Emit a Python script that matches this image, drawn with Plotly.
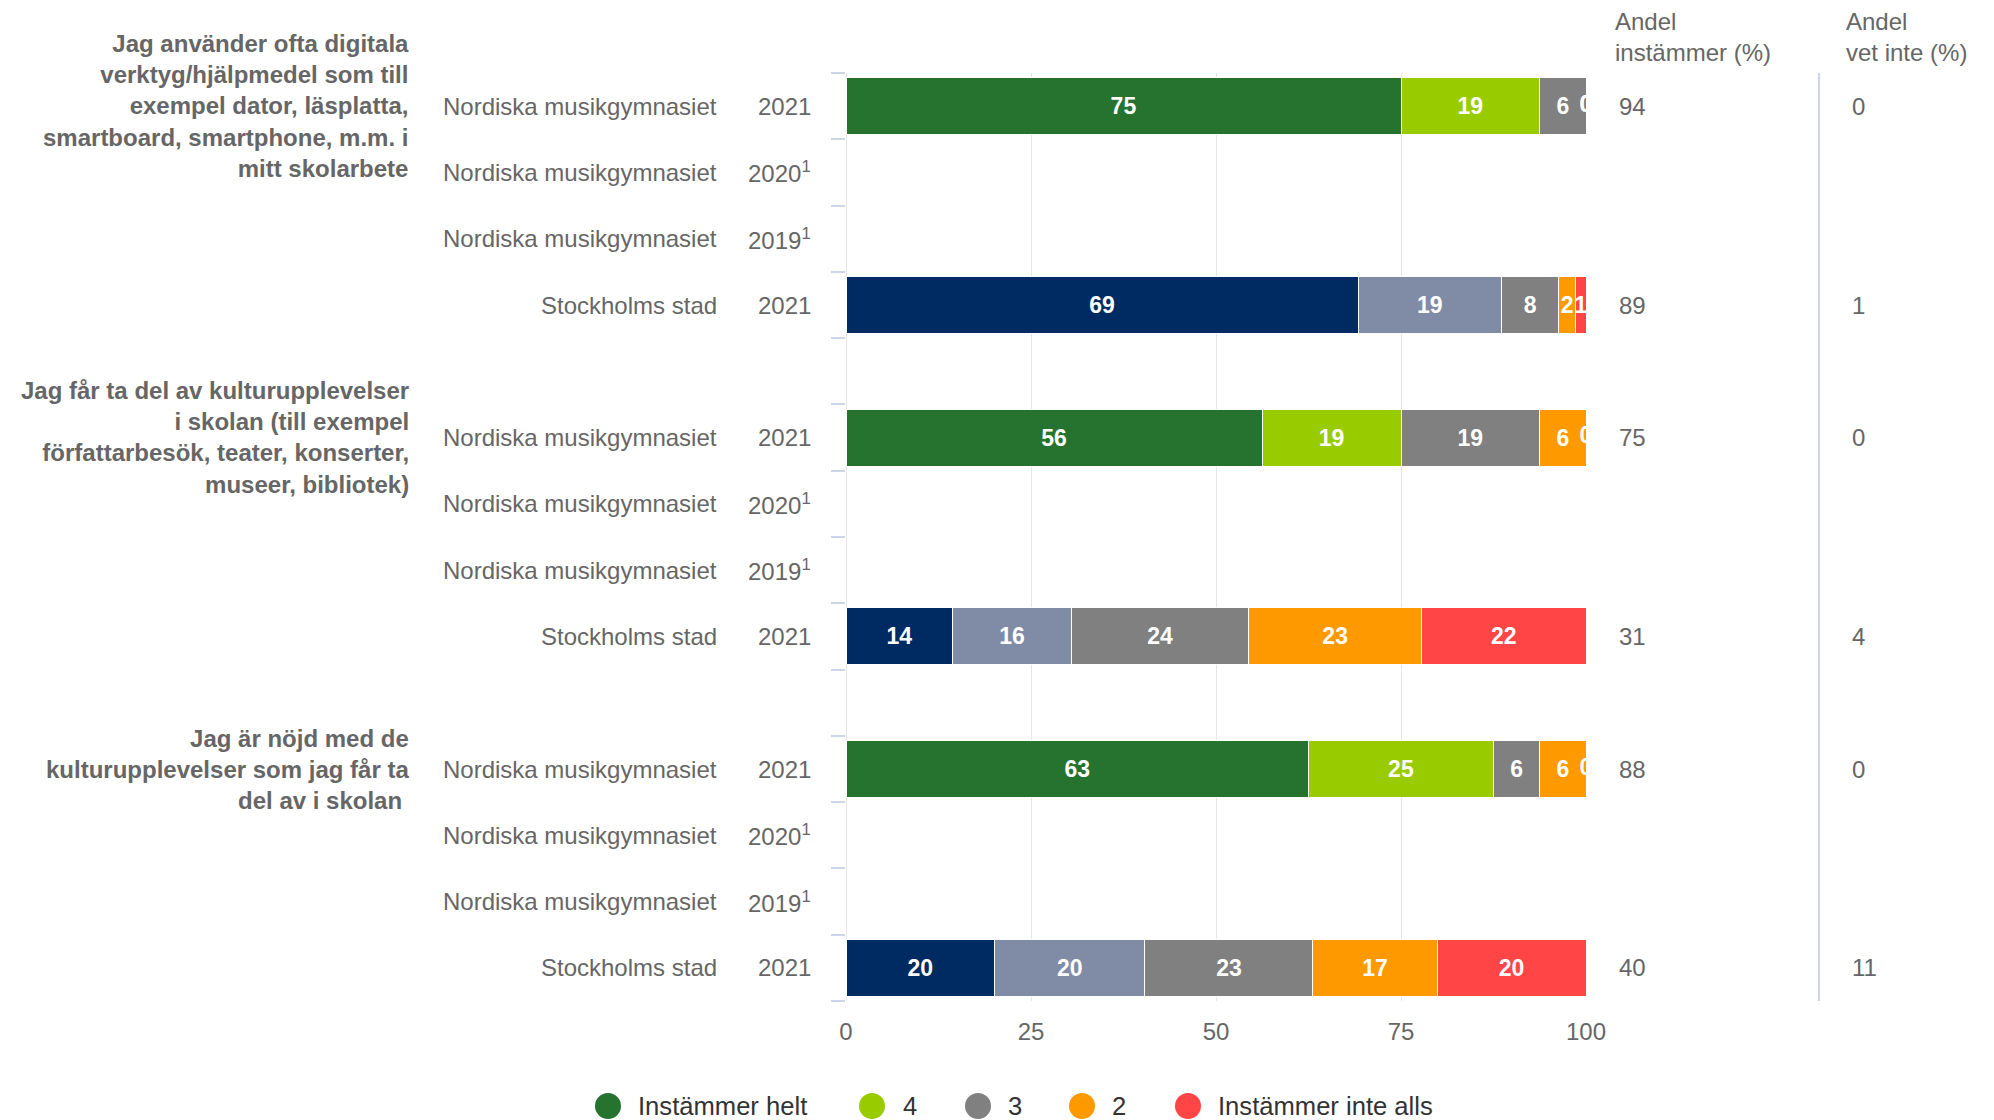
import math
import plotly.graph_objects as go

# ---------------- data ----------------
questions = [
    "Jag använder ofta digitala<br>verktyg/hjälpmedel som till<br>exempel dator, läsplatta,<br>smartboard, smartphone, m.m. i<br>mitt skolarbete",
    "Jag får ta del av kulturupplevelser<br>i skolan (till exempel<br>författarbesök, teater, konserter,<br>museer, bibliotek)",
    "Jag är nöjd med de<br>kulturupplevelser som jag får ta<br>del av i skolan&nbsp;",
]
row_orgs = ["Nordiska musikgymnasiet", "Nordiska musikgymnasiet", "Nordiska musikgymnasiet", "Stockholms stad"]
row_years = ["2021", "2020<sup>1</sup>", "2019<sup>1</sup>", "2021"]

categories = ["Instämmer helt", "4", "3", "2", "Instämmer inte alls"]

# Nordiska musikgymnasiet 2021 (per question)
nmg_helt = [75.0, 56.25, 62.5]
nmg_4 = [18.75, 18.75, 25.0]
nmg_3 = [6.25, 18.75, 6.25]
nmg_2 = [0.0, 6.25, 6.25]
nmg_inte = [0.0, 0.0, 0.0]

# Stockholms stad 2021 (per question)
sthlm_helt = [69.2, 14.4, 20.1]
sthlm_4 = [19.4, 16.1, 20.3]
sthlm_3 = [7.7, 23.9, 22.7]
sthlm_2 = [2.3, 23.4, 16.8]
sthlm_inte = [1.4, 22.2, 20.1]

nmg_andel_instammer = [94, 75, 88]
sthlm_andel_instammer = [89, 31, 40]
nmg_andel_vet_inte = [0, 0, 0]
sthlm_andel_vet_inte = [1, 4, 11]

# ---------------- style ----------------
nmg_colors = ["#267330", "#99CC00", "#808080", "#FF9900", "#FF4545"]
sthlm_colors = ["#002B62", "#808BA6", "#808080", "#FF9900", "#FF4545"]
FONT = "Liberation Sans, Arial, Helvetica, sans-serif"
GREY = "#666666"

W, H = 1994, 1120
ML, MR, MT, MB = 846, 408, 73, 119
PW = W - ML - MR
PH = H - MT - MB


def px_x(px):
    return (px - ML) / PW


def px_y(py):
    return (H - MB - py) / PH


def lbl(v):
    return str(int(math.floor(v + 0.5))) if v != 0 else ""


ROWS_PER_GROUP = 5  # 4 rows + 1 blank
nq = len(questions)
nmg_rows = [g * ROWS_PER_GROUP + 0 for g in range(nq)]
sthlm_rows = [g * ROWS_PER_GROUP + 3 for g in range(nq)]

nmg_series = [nmg_helt, nmg_4, nmg_3, nmg_2, nmg_inte]
sthlm_series = [sthlm_helt, sthlm_4, sthlm_3, sthlm_2, sthlm_inte]

fig = go.Figure()
zero_x, zero_y = [], []
for series, rows, cols, org in ((nmg_series, nmg_rows, nmg_colors, "Nordiska musikgymnasiet"),
                                (sthlm_series, sthlm_rows, sthlm_colors, "Stockholms stad")):
    cum = [0.0] * nq
    for k, cat in enumerate(categories):
        vals = series[k]
        fig.add_trace(go.Bar(
            x=vals, y=rows, orientation="h", name=cat, legendgroup=cat,
            width=0.86,
            marker=dict(color=cols[k], line=dict(color="white", width=1)),
            text=[lbl(v) for v in vals],
            textposition="inside", insidetextanchor="middle", textangle=0,
            textfont=dict(family=FONT, size=23, color="white", weight="bold"),
            showlegend=False,
            hovertemplate=org + "<br>" + cat + ": %{x}<extra></extra>",
        ))
        for i, v in enumerate(vals):
            if v == 0:
                zero_x.append(cum[i])
                zero_y.append(rows[i])
            cum[i] += v

# labels of zero-valued segments (drawn at the stack end, clipped by the plot area)
fig.add_trace(go.Scatter(
    x=zero_x, y=zero_y, mode="text", text=["0"] * len(zero_x),
    textposition="middle center", cliponaxis=True,
    textfont=dict(family=FONT, size=23, color="white", weight="bold"),
    showlegend=False, hoverinfo="skip",
))

n_slots = nq * ROWS_PER_GROUP - 1
boundaries = [i - 0.5 for i in range(n_slots + 1)]

annotations = []
shapes = []

# question labels
for g, q in enumerate(questions):
    annotations.append(dict(
        x=0, xref="paper", xshift=-435, y=g * ROWS_PER_GROUP, yref="y",
        text=q, xanchor="right", yanchor="middle", align="right", showarrow=False,
        font=dict(family=FONT, size=24, color=GREY, weight="bold"),
    ))
    for r in range(4):
        yy = g * ROWS_PER_GROUP + r
        annotations.append(dict(
            x=0, xref="paper", xshift=-127, y=yy, yref="y", text=row_orgs[r],
            xanchor="right", yanchor="middle", showarrow=False,
            font=dict(family=FONT, size=24, color=GREY),
        ))
        annotations.append(dict(
            x=0, xref="paper", xshift=-33, y=yy, yref="y", text=row_years[r],
            xanchor="right", yanchor="middle", showarrow=False,
            font=dict(family=FONT, size=24, color=GREY),
        ))

# right-hand columns
for rows, inst, vet in ((nmg_rows, nmg_andel_instammer, nmg_andel_vet_inte),
                        (sthlm_rows, sthlm_andel_instammer, sthlm_andel_vet_inte)):
    for yy, a, b in zip(rows, inst, vet):
        annotations.append(dict(
            x=px_x(1617), xref="paper", y=yy, yref="y", text=str(a),
            xanchor="left", yanchor="middle", showarrow=False,
            font=dict(family=FONT, size=24, color=GREY),
        ))
        annotations.append(dict(
            x=px_x(1850), xref="paper", y=yy, yref="y", text=str(b),
            xanchor="left", yanchor="middle", showarrow=False,
            font=dict(family=FONT, size=24, color=GREY),
        ))

for xpx, txt in ((1613, "Andel<br>instämmer (%)"), (1844, "Andel<br>vet inte (%)")):
    annotations.append(dict(
        x=px_x(xpx), xref="paper", y=px_y(37.5), yref="paper", text=txt,
        xanchor="left", yanchor="middle", align="left", showarrow=False,
        font=dict(family=FONT, size=24, color=GREY),
    ))

# separator line between the two right-hand columns
shapes.append(dict(type="line", xref="paper", yref="paper", x0=px_x(1819), x1=px_x(1819),
                   y0=0, y1=1, line=dict(color="#ccd6eb", width=2)))

# legend (circles + labels)
legend_circle_x = [608, 872, 978, 1082, 1188]
legend_text_x = [636, 901, 1006, 1110, 1216]
ly = px_y(1106)
for k, cat in enumerate(categories):
    shapes.append(dict(
        type="circle", xref="paper", yref="paper",
        xsizemode="pixel", ysizemode="pixel",
        xanchor=px_x(legend_circle_x[k]), yanchor=ly,
        x0=-13, x1=13, y0=-13, y1=13,
        fillcolor=nmg_colors[k], line=dict(width=0),
    ))
    annotations.append(dict(
        x=px_x(legend_text_x[k]), xref="paper", y=ly, yref="paper", text=cat,
        xanchor="left", yanchor="middle", showarrow=False,
        font=dict(family=FONT, size=25.6, color="#333333"),
    ))

fig.update_layout(
    width=W, height=H,
    margin=dict(l=ML, r=MR, t=MT, b=MB, pad=0),
    barmode="stack",
    plot_bgcolor="white", paper_bgcolor="white",
    showlegend=False,
    font=dict(family=FONT, size=24, color=GREY),
    uniformtext=dict(minsize=23, mode="show"),
    annotations=annotations,
    shapes=shapes,
    xaxis=dict(
        range=[0, 100], tickvals=[0, 25, 50, 75, 100],
        showgrid=True, gridcolor="#e6e6e6", gridwidth=1,
        zeroline=True, zerolinecolor="#e6e6e6", zerolinewidth=1,
        showline=False, ticks="", ticklabelstandoff=14,
        tickfont=dict(family=FONT, size=24, color=GREY),
        fixedrange=True,
    ),
    yaxis=dict(
        range=[n_slots - 0.5, -0.5],
        tickvals=boundaries, showticklabels=False,
        ticks="outside", ticklen=14, tickcolor="#ccd6eb", tickwidth=2,
        showgrid=False, zeroline=False, showline=False,
        fixedrange=True,
    ),
)

fig.write_html(
    "out.html",
    config={"displayModeBar": False},
    post_script="document.body.style.margin='0';document.body.style.overflow='hidden';",
)
